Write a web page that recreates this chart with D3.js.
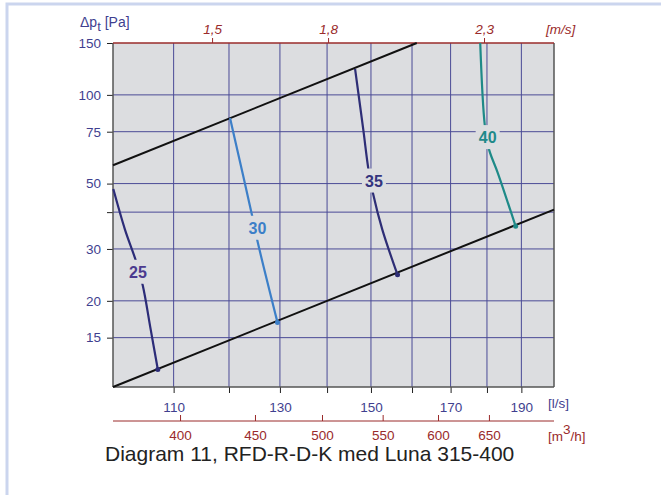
<!DOCTYPE html>
<html>
<head>
<meta charset="utf-8">
<script src="https://cdn.jsdelivr.net/npm/d3@7/dist/d3.min.js"></script>
<style>
  html, body { margin: 0; padding: 0; background: #ffffff; }
  svg { display: block; font-family: "Liberation Sans", Arial, Helvetica, sans-serif; }
</style>
</head>
<body>
<svg id="chart" width="661" height="495"></svg>
<script>
// ---------- data ----------
const flowDomain = [100, 200];          // l/s
const dpDomain = [10.2, 150];           // Pa
const yTicks = [15, 20, 30, 40, 50, 75, 100, 150];
const yTickLabels = ["15", "20", "30", "", "50", "75", "100", "150"];
const xTicks = [110, 120, 130, 140, 150, 160, 170, 180, 190];
const xTickLabels = ["110", "", "130", "", "150", "", "170", "", "190"];
const velTicks = [1.5, 1.8, 2.3];       // m/s
const velTickLabels = ["1,5", "1,8", "2,3"];
const m3hTicks = [400, 450, 500, 550, 600, 650];
const ductArea = 0.0779;                // m², Ø315

// operating limit lines
const upperQ = [100, 161.2];
const upperP = [57.7, 150];
const lowerQ = [100, 200];
const lowerP = [10.2, 40.8];

// sound level curves (dB(A))
const curveNames = ["25", "30", "35", "40"];
const curveColors = ["#2c2c78", "#3c7fc8", "#2e2e76", "#1e8a88"];
const labelColors = ["#4b3a8f", "#3c7fc8", "#34347e", "#1f8a8a"];
const curve25Q = [100.05, 101.9, 103.7, 104.8, 106.1, 107.3];
const curve25P = [47.9, 34.9, 27.2, 22.5, 16.0, 11.7];
const curve30Q = [120.2, 120.7, 124.5, 125.4, 129.5];
const curve30P = [83.5, 76.2, 38.5, 32.4, 16.9];
const curve35Q = [146.3, 148.2, 149.4, 150.5, 152.7, 156.4];
const curve35P = [122.5, 76.2, 56.0, 46.2, 34.9, 24.5];
const curve40Q = [178.1, 179.4, 180.6, 183.1, 188.3];
const curve40P = [150, 78.6, 65.2, 54.3, 35.8];
const labelQ = [104.0, 125.5, 150.7, 180.2];
const labelP = [25.1, 35.4, 51.2, 71.9];

// ---------- drawing ----------
const svg = d3.select("#chart");
const L = 113, R = 554, T = 43, B = 387;
const x = d3.scaleLog().domain(flowDomain).range([L, R]);
const y = d3.scaleLog().domain(dpDomain).range([B, T]);
const navy = "#3f3f8f", red = "#9a2b2b", grid = "#4a4a96";

// outer frame
svg.append("rect").attr("x", 7).attr("y", 4).attr("width", 700).attr("height", 600)
  .attr("fill", "none").attr("stroke", "#cbd5ee").attr("stroke-width", 3);

// plot background
svg.append("rect").attr("x", L).attr("y", T).attr("width", R - L).attr("height", B - T)
  .attr("fill", "#dcdde0");

// grid
const gGrid = svg.append("g");
gGrid.selectAll("line.h").data(yTicks.filter(v => v < 150)).join("line")
  .attr("x1", L).attr("x2", R).attr("y1", d => y(d)).attr("y2", d => y(d))
  .attr("stroke", grid).attr("stroke-width", 1);
gGrid.selectAll("line.v").data(xTicks).join("line")
  .attr("x1", d => x(d)).attr("x2", d => x(d)).attr("y1", T).attr("y2", B)
  .attr("stroke", grid).attr("stroke-width", 1);

// left axis ticks and labels
const yAxis = d3.axisLeft(y).tickValues(yTicks).tickSize(6)
  .tickFormat((d, i) => yTickLabels[i]);
const gy = svg.append("g").attr("transform", `translate(${L},0)`).call(yAxis);
gy.select(".domain").remove();
gy.selectAll(".tick line").attr("stroke", "#222").attr("stroke-width", 1);
gy.selectAll(".tick text").attr("fill", navy).attr("font-size", 13.5)
  .attr("font-family", "Liberation Sans, Arial, sans-serif").attr("x", -12);

// bottom axis (l/s)
const xAxis = d3.axisBottom(x).tickValues(xTicks).tickSize(6)
  .tickFormat((d, i) => xTickLabels[i]);
const gx = svg.append("g").attr("transform", `translate(0,${B})`).call(xAxis);
gx.select(".domain").remove();
gx.selectAll(".tick line").attr("stroke", "#222");
gx.selectAll(".tick text").attr("fill", navy).attr("font-size", 13.5)
  .attr("font-family", "Liberation Sans, Arial, sans-serif").attr("y", 15);
svg.append("text").attr("x", 548).attr("y", 408).attr("fill", navy)
  .attr("font-size", 13.5).text("[l/s]");

// m3/h axis
const m3h = d3.scaleLog().domain(flowDomain.map(q => q * 3.6)).range([L, R]);
const m3hAxis = d3.axisTop(m3h).tickValues(m3hTicks).tickSize(6).tickFormat(d3.format("d"));
const gm = svg.append("g").attr("transform", "translate(0,421)").call(m3hAxis);
gm.select(".domain").attr("stroke", red).attr("d", `M${L},0H${R}`);
gm.selectAll(".tick line").attr("stroke", red);
gm.selectAll(".tick text").attr("fill", red).attr("font-size", 13.5)
  .attr("font-family", "Liberation Sans, Arial, sans-serif").attr("y", 19);
const mu = svg.append("text").attr("x", 548).attr("y", 441).attr("fill", red).attr("font-size", 13.5);
mu.append("tspan").text("[m");
mu.append("tspan").attr("dy", -7).text("3");
mu.append("tspan").attr("dy", 7).text("/h]");

// top axis (m/s)
const vel = d3.scaleLog().domain(flowDomain.map(q => q / 1000 / ductArea)).range([L, R]);
const velAxis = d3.axisTop(vel).tickValues(velTicks).tickSize(5)
  .tickFormat((d, i) => velTickLabels[i]);
const gv = svg.append("g").attr("transform", `translate(0,${T})`).call(velAxis);
gv.select(".domain").remove();
gv.selectAll(".tick line").attr("stroke", red);
gv.selectAll(".tick text").attr("fill", red).attr("font-size", 13.5).attr("font-style", "italic")
  .attr("font-family", "Liberation Sans, Arial, sans-serif").attr("y", -9);
svg.append("text").attr("x", 546).attr("y", 34).attr("fill", red).attr("font-size", 13.5)
  .attr("font-style", "italic").text("[m/s]");

// y title
const yt = svg.append("text").attr("x", 80).attr("y", 27).attr("fill", navy).attr("font-size", 14);
yt.append("tspan").text("Δp");
yt.append("tspan").attr("dy", 4).attr("font-size", 13).text("t");
yt.append("tspan").attr("dy", -4).text(" [Pa]");

// plot borders
svg.append("line").attr("x1", L).attr("x2", L).attr("y1", T).attr("y2", B).attr("stroke", "#555").attr("stroke-width", 1.5);
svg.append("line").attr("x1", R).attr("x2", R).attr("y1", T).attr("y2", B).attr("stroke", "#555").attr("stroke-width", 1.5);
svg.append("line").attr("x1", L).attr("x2", R).attr("y1", B).attr("y2", B).attr("stroke", "#555").attr("stroke-width", 1.5);
svg.append("line").attr("x1", L).attr("x2", R).attr("y1", T).attr("y2", T).attr("stroke", red).attr("stroke-width", 1.5);

// limit lines
const straight = d3.line().x(d => x(d[0])).y(d => y(d[1]));
svg.append("path").attr("d", straight(d3.zip(upperQ, upperP)))
  .attr("fill", "none").attr("stroke", "#111").attr("stroke-width", 2);
svg.append("path").attr("d", straight(d3.zip(lowerQ, lowerP)))
  .attr("fill", "none").attr("stroke", "#111").attr("stroke-width", 2);

// sound curves
const smooth = d3.line().x(d => x(d[0])).y(d => y(d[1])).curve(d3.curveCatmullRom.alpha(0.5));
const curves = [
  d3.zip(curve25Q, curve25P), d3.zip(curve30Q, curve30P),
  d3.zip(curve35Q, curve35P), d3.zip(curve40Q, curve40P)
];
curves.forEach((pts, i) => {
  svg.append("path").attr("d", smooth(pts)).attr("fill", "none")
    .attr("stroke", curveColors[i]).attr("stroke-width", 2.2);
  const last = pts[pts.length - 1];
  svg.append("circle").attr("cx", x(last[0])).attr("cy", y(last[1])).attr("r", 2.5)
    .attr("fill", curveColors[i]);
});

// curve labels with background gaps
curveNames.forEach((name, i) => {
  const cx = x(labelQ[i]), cy = y(labelP[i]);
  svg.append("rect").attr("x", cx - 12).attr("y", cy - 12).attr("width", 24).attr("height", 24)
    .attr("fill", "#dcdde0");
  svg.append("text").attr("x", cx).attr("y", cy + 6).attr("text-anchor", "middle")
    .attr("font-size", 16).attr("font-weight", "bold").attr("fill", labelColors[i]).text(name);
});

// footer title
svg.append("text").attr("x", 105).attr("y", 461).attr("fill", "#222").attr("font-size", 21)
  .text("Diagram 11, RFD-R-D-K med Luna 315-400");
</script>
</body>
</html>
